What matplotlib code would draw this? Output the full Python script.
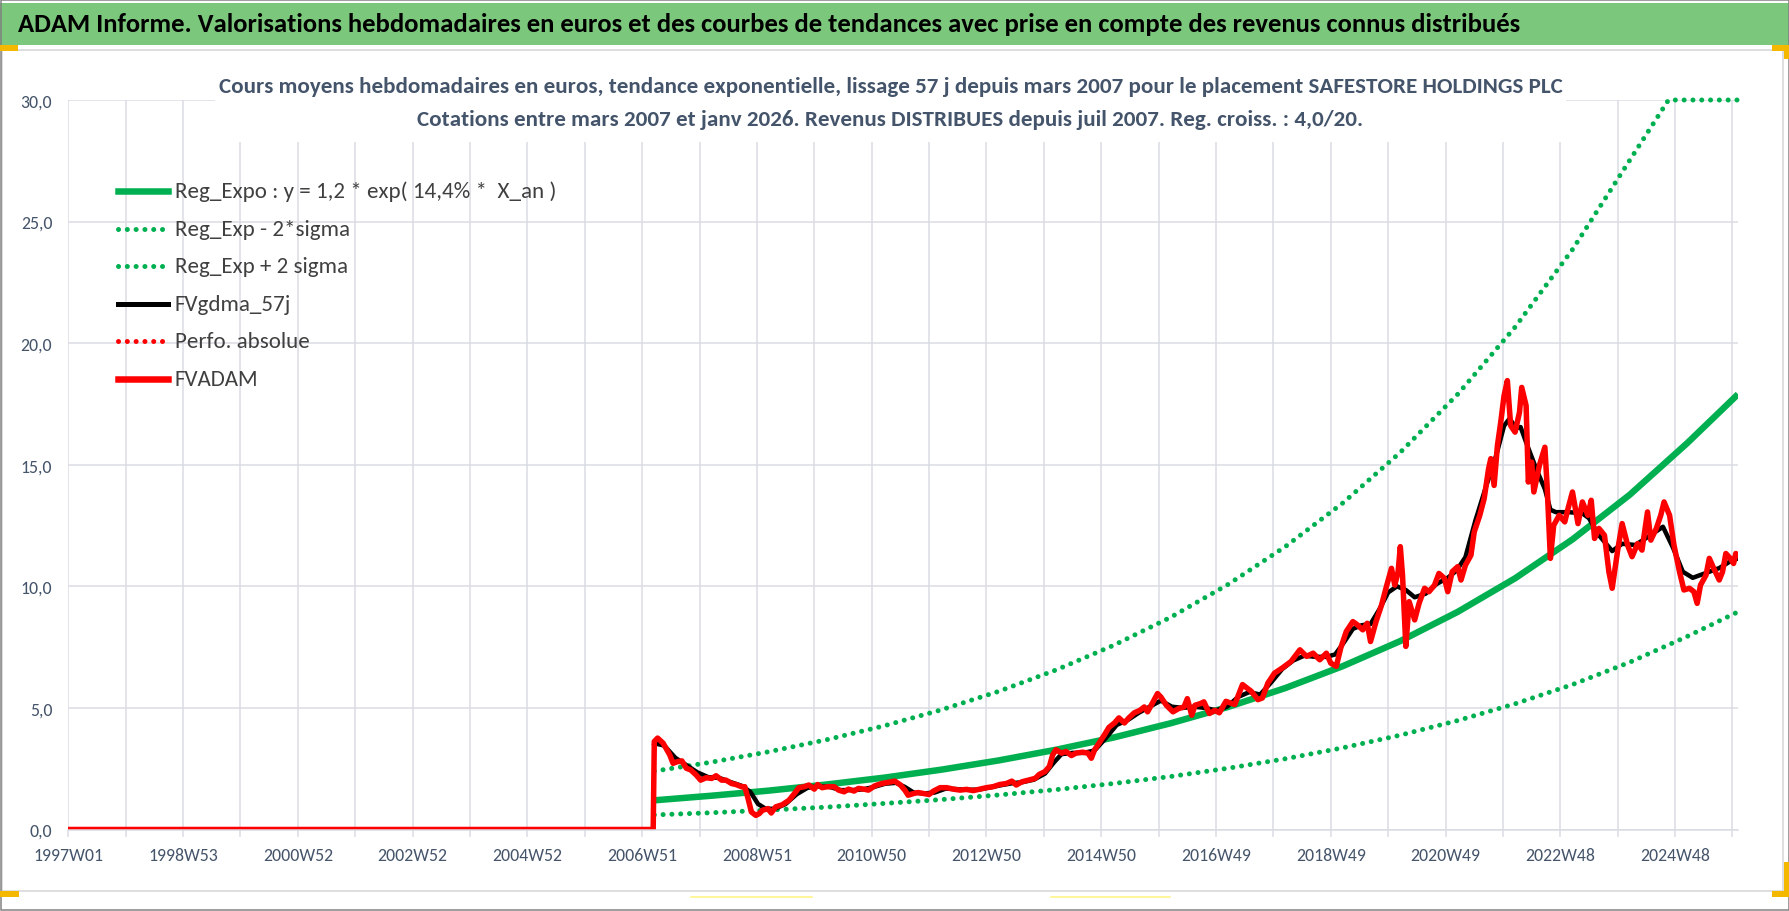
import matplotlib
matplotlib.use('Agg')
import matplotlib.pyplot as plt
from matplotlib import font_manager
from matplotlib.lines import Line2D
from matplotlib.patches import Rectangle

W, H = 1790, 912

# ---------------- data ----------------
# x = week index counted from 1997W01, y = euros
week_labels = ['1997W01', '1998W53', '2000W52', '2002W52', '2004W52', '2006W51',
               '2008W51', '2010W50', '2012W50', '2014W50', '2016W49', '2018W49',
               '2020W49', '2022W48', '2024W48']
n_weeks = 1514  # 1997W01 .. 2026W01

trend_weeks = [531, 583, 635, 687, 739, 791, 843, 895, 947, 999, 1051, 1103,
               1155, 1207, 1259, 1311, 1363, 1415, 1467, 1513]
reg_expo = [1.20, 1.39, 1.60, 1.85, 2.13, 2.46, 2.84, 3.28, 3.78, 4.37, 5.04, 5.82,
            6.72, 7.75, 8.95, 10.33, 11.93, 13.77, 15.89, 17.9]
reg_minus = [0.60, 0.69, 0.80, 0.92, 1.07, 1.23, 1.42, 1.64, 1.89, 2.18, 2.52, 2.91,
             3.36, 3.88, 4.48, 5.17, 5.96, 6.88, 7.94, 8.95]
plus_weeks = [531, 583, 635, 687, 739, 791, 843, 895, 947, 999, 1051, 1103,
              1155, 1207, 1259, 1311, 1363, 1415, 1450, 1513]
reg_plus = [2.40, 2.77, 3.20, 3.69, 4.26, 4.92, 5.68, 6.56, 7.57, 8.73, 10.08, 11.64,
            13.43, 15.51, 17.90, 20.66, 23.85, 27.53, 30.0, 30.0]

fvadam_weeks = [0, 530, 531, 534, 539, 545, 548, 552, 556, 560, 564, 569, 573, 578,
                583, 587, 592, 596, 601, 605, 610, 613, 616, 619, 623, 626, 629, 634,
                637, 641, 647, 653, 658, 662, 667, 671, 676, 679, 683, 688, 694, 698,
                703, 707, 712, 716, 721, 725, 731, 737, 743, 749, 754, 758, 761, 766,
                770, 775, 780, 784, 790, 796, 802, 808, 814, 820, 826, 832, 838, 844,
                850, 855, 859, 864, 870, 876, 880, 885, 889, 892, 895, 900, 904, 909,
                913, 919, 924, 927, 930, 934, 939, 943, 948, 952, 957, 961, 966, 971,
                975, 978, 983, 987, 990, 995, 1001, 1006, 1011, 1014, 1018, 1021, 1026,
                1029, 1034, 1039, 1043, 1049, 1057, 1064, 1072, 1078, 1082, 1087, 1093,
                1100, 1108, 1116, 1122, 1128, 1134, 1140, 1144, 1149, 1153, 1158, 1164,
                1168, 1173, 1177, 1180, 1185, 1190, 1194, 1199, 1202, 1205, 1207, 1209,
                1212, 1215, 1220, 1224, 1229, 1233, 1238, 1242, 1247, 1250, 1254, 1259,
                1262, 1266, 1271, 1274, 1279, 1283, 1287, 1289, 1292, 1295, 1298, 1301,
                1304, 1307, 1311, 1315, 1317, 1321, 1323, 1326, 1328, 1333, 1338, 1340,
                1343, 1346, 1351, 1356, 1359, 1363, 1368, 1372, 1377, 1380, 1383, 1387,
                1392, 1396, 1399, 1404, 1408, 1413, 1417, 1422, 1426, 1431, 1434, 1439,
                1443, 1446, 1451, 1455, 1460, 1464, 1469, 1473, 1476, 1479, 1484, 1487,
                1491, 1496, 1499, 1502, 1506, 1509, 1511, 1513]
fvadam = [0.0, 0.0, 3.62, 3.76, 3.55, 3.07, 2.72, 2.79, 2.82, 2.52, 2.45, 2.24, 2.03,
          2.13, 2.10, 2.21, 2.03, 2.03, 1.89, 1.85, 1.76, 1.76, 1.27, 0.72, 0.58, 0.65,
          0.79, 0.86, 0.68, 0.93, 1.02, 1.20, 1.48, 1.72, 1.76, 1.83, 1.66, 1.85, 1.72,
          1.76, 1.76, 1.62, 1.55, 1.66, 1.58, 1.69, 1.66, 1.62, 1.80, 1.89, 1.94, 1.99,
          1.83, 1.62, 1.41, 1.48, 1.52, 1.48, 1.44, 1.58, 1.72, 1.72, 1.66, 1.62, 1.65,
          1.60, 1.66, 1.72, 1.76, 1.85, 1.89, 1.99, 1.83, 1.96, 2.03, 2.10, 2.27, 2.38,
          2.59, 3.07, 3.28, 3.14, 3.21, 3.04, 3.14, 3.18, 3.14, 2.93, 3.28, 3.55, 3.90,
          4.20, 4.38, 4.59, 4.38, 4.59, 4.80, 4.90, 5.04, 4.84, 5.25, 5.59, 5.45, 5.11,
          4.84, 4.97, 5.04, 5.38, 4.70, 5.11, 5.18, 5.25, 4.77, 4.90, 4.80, 5.27, 5.14,
          5.96, 5.68, 5.34, 5.41, 6.02, 6.43, 6.64, 6.91, 7.39, 7.12, 7.25, 6.98, 7.25,
          6.84, 6.71, 7.46, 8.14, 8.55, 8.42, 8.21, 8.48, 7.73, 8.55, 9.23, 9.92, 10.74,
          10.05, 10.60, 11.63, 10.46, 7.53, 9.37, 8.62, 9.30, 9.92, 9.78, 10.05, 10.53,
          10.33, 9.78, 10.60, 10.81, 10.26, 10.87, 11.28, 12.24, 12.92, 13.61, 14.84,
          15.25, 14.15, 15.79, 16.75, 17.84, 18.46, 16.61, 16.34, 17.16, 18.18, 17.43,
          14.29, 15.11, 13.88, 14.97, 15.72, 14.15, 11.15, 12.51, 12.92, 12.65, 13.20,
          13.88, 12.58, 13.47, 12.92, 13.54, 11.97, 12.38, 12.10, 10.60, 9.92, 11.49,
          12.58, 11.69, 11.22, 11.76, 11.49, 13.06, 11.90, 12.38, 12.92, 13.47, 12.92,
          11.69, 10.60, 9.85, 9.92, 9.78, 9.30, 10.05, 10.46, 11.15, 10.74, 10.26, 10.60,
          11.35, 11.15, 10.94, 11.35, 11.28]

gdma_weeks = [531, 540, 550, 560, 570, 580, 590, 600, 610, 618, 625, 632, 640, 650,
              660, 670, 680, 690, 700, 710, 720, 730, 740, 750, 758, 766, 775, 785,
              795, 805, 815, 825, 835, 845, 855, 865, 875, 885, 893, 900, 910, 920,
              930, 940, 950, 960, 970, 980, 990, 1000, 1010, 1020, 1030, 1040, 1050,
              1060, 1070, 1080, 1090, 1100, 1110, 1120, 1130, 1140, 1148, 1156, 1164,
              1172, 1180, 1188, 1196, 1204, 1212, 1220, 1230, 1240, 1250, 1258, 1266,
              1275, 1285, 1294, 1301, 1306, 1312, 1316, 1322, 1330, 1338, 1343, 1348,
              1360, 1372, 1378, 1387, 1399, 1408, 1420, 1432, 1445, 1454, 1463, 1472,
              1484, 1496, 1505, 1513]
fvgdma = [3.55, 3.45, 2.95, 2.65, 2.35, 2.15, 2.12, 1.95, 1.80, 1.55, 1.05, 0.85,
          0.85, 1.05, 1.45, 1.72, 1.78, 1.75, 1.62, 1.62, 1.65, 1.75, 1.88, 1.92, 1.75,
          1.52, 1.48, 1.52, 1.68, 1.66, 1.63, 1.64, 1.73, 1.82, 1.90, 1.95, 2.05, 2.30,
          2.75, 3.10, 3.15, 3.15, 3.25, 3.75, 4.30, 4.50, 4.80, 5.05, 5.30, 5.05, 5.00,
          5.05, 5.00, 4.90, 5.05, 5.45, 5.65, 5.55, 6.05, 6.60, 6.95, 7.15, 7.10, 7.10,
          7.20, 7.70, 8.25, 8.40, 8.45, 9.05, 9.75, 10.0, 9.85, 9.55, 9.70, 10.10,
          10.35, 10.65, 11.20, 12.70, 14.15, 15.40, 16.60, 16.90, 16.50, 16.55, 15.80,
          14.85, 14.00, 13.15, 13.05, 13.05, 13.00, 12.80, 12.10, 11.45, 11.75, 11.70,
          12.05, 12.45, 11.60, 10.60, 10.35, 10.55, 10.75, 11.00, 11.15]

legend_labels = ['Reg_Expo : y = 1,2 * exp( 14,4% *  X_an )', 'Reg_Exp - 2*sigma',
                 'Reg_Exp + 2 sigma', 'FVgdma_57j', 'Perfo. absolue', 'FVADAM']

main_title = ('ADAM Informe. Valorisations hebdomadaires en euros et des courbes de '
              'tendances avec prise en compte des revenus connus distribués')
chart_title_1 = ('Cours moyens hebdomadaires en euros, tendance exponentielle, lissage 57 j '
                 'depuis mars 2007 pour le placement SAFESTORE HOLDINGS PLC')
chart_title_2 = ('Cotations entre mars 2007 et janv 2026. Revenus DISTRIBUES depuis juil 2007. '
                 'Reg. croiss. : 4,0/20.')

# ---------------- fonts ----------------
avail = {f.name for f in font_manager.fontManager.ttflist}
base = next(f for f in ['Carlito', 'Liberation Sans Narrow', 'Roboto', 'DejaVu Sans']
            if f in avail)
plt.rcParams['font.family'] = [base, 'DejaVu Sans']

GREEN = '#00B050'
GRID = '#D9DCE3'
TXT = '#44546A'
PX = 72 / 100  # points per pixel


def fx(x):
    return x / W


def fy(y):
    return 1 - y / H


fig = plt.figure(figsize=(W / 100, H / 100), dpi=100)
fig.patch.set_facecolor('white')
r = fig.canvas.get_renderer()


def fit(t, width):
    bb = t.get_window_extent(r)
    t.set_fontsize(t.get_fontsize() * width / bb.width)
    return t


def size_for(s, width, **kw):
    t = fig.text(0, 0, s, fontsize=10, **kw)
    w = t.get_window_extent(r).width
    t.remove()
    return 10 * width / w


# ---------------- frame decorations ----------------
fig.add_artist(Rectangle((0, fy(46)), 1, (46 - 4) / H, transform=fig.transFigure,
                         facecolor='#7BC77B', edgecolor='none', zorder=0))
fig.add_artist(Rectangle((fx(2), fy(892)), fx(1781), (892 - 51) / H, transform=fig.transFigure,
                         facecolor='none', edgecolor='#D4D4D4', lw=1.5 * PX, zorder=0))
fig.add_artist(Rectangle((fx(0.7), fy(911.3)), fx(1788.6), 910.6 / H, transform=fig.transFigure,
                         facecolor='none', edgecolor='#808080', lw=1.5 * PX, zorder=5))
yellow = '#F5B800'
for (x0, y0, w, h) in [(0, 46, 18, 6), (1772, 46, 18, 6), (1784, 46, 6, 14),
                       (1784, 863, 6, 35), (1772, 892, 18, 6), (0, 892, 19, 6)]:
    fig.add_artist(Rectangle((fx(x0), fy(y0 + h)), w / W, h / H, transform=fig.transFigure,
                             facecolor=yellow, edgecolor='none', zorder=6))
for (x0, x1) in [(691, 812), (1051, 1170)]:
    fig.add_artist(Line2D([fx(x0), fx(x1)], [fy(898), fy(898)], transform=fig.transFigure,
                          color='#FFF27A', lw=1.5 * PX, zorder=6))

t = fig.text(fx(18), fy(25), main_title, fontsize=18, fontweight='bold', color='black',
             ha='left', va='center', zorder=3)
fit(t, 1502)

# ---------------- plot area ----------------
left, right, bottom, top = 68.3, 1738.0, 830.5, 101.0
ax = fig.add_axes([fx(left), fy(bottom), (right - left) / W, (bottom - top) / H])
ax.set_facecolor('none')
ax.set_xlim(0, n_weeks - 1)
ax.set_ylim(0, 30)

tick_fs = size_for('1997W01', 70)
grid_pos = list(range(0, n_weeks - 1, 52))
grid_labels = [week_labels[i // 2] if i % 2 == 0 else '' for i in range(len(grid_pos))]
ax.set_xticks(grid_pos)
ax.set_xticklabels(grid_labels)
yt = list(range(0, 31, 5))
ax.set_yticks(yt)
ax.set_yticklabels([f'{v:.1f}'.replace('.', ',') for v in yt])
ax.tick_params(axis='x', length=7 * PX, width=1.5 * PX, color=GRID, pad=11 * PX,
               labelsize=tick_fs, labelcolor=TXT)
ax.tick_params(axis='y', length=0, pad=16 * PX, labelsize=tick_fs, labelcolor=TXT)
ax.grid(True, color=GRID, lw=1.5 * PX)
ax.set_axisbelow(True)
for s in ['left', 'right', 'top']:
    ax.spines[s].set_visible(False)
ax.spines['bottom'].set_color(GRID)
ax.spines['bottom'].set_linewidth(1.5 * PX)

dot = dict(color=GREEN, lw=5 * PX, linestyle=(0, (0.01, 1.75)), dash_capstyle='round')
ax.plot(trend_weeks, reg_expo, color=GREEN, lw=6.5 * PX, solid_capstyle='butt')
ax.plot(trend_weeks, reg_minus, **dot)
ax.plot(plus_weeks, reg_plus, clip_on=False, **dot)
ax.plot(gdma_weeks, fvgdma, color='black', lw=4.5 * PX)
ax.plot(fvadam_weeks, fvadam, color='#FF0000', lw=5.5 * PX, solid_joinstyle='round')

# ---------------- chart title (white box hides gridlines) ----------------
fig.add_artist(Rectangle((fx(215), fy(143)), (1566 - 215) / W, (143 - 62) / H,
                         transform=fig.transFigure, facecolor='white', edgecolor='none',
                         zorder=2))
t1 = fig.text(fx(891), fy(87), chart_title_1, fontsize=14, fontweight='bold', color=TXT,
              ha='center', va='center', zorder=3)
fit(t1, 1340)
t2 = fig.text(fx(890), fy(120), chart_title_2, fontsize=t1.get_fontsize(), fontweight='bold',
              color=TXT, ha='center', va='center', zorder=3)

# ---------------- legend ----------------
leg_fs = size_for(legend_labels[0], 379)
ldot = dict(lw=5 * PX, linestyle=(0, (0.01, 1.75)), dash_capstyle='round')
leg_styles = [dict(color=GREEN, lw=6.5 * PX),
              dict(color=GREEN, **ldot),
              dict(color=GREEN, **ldot),
              dict(color='black', lw=5 * PX),
              dict(color='#FF0000', **ldot),
              dict(color='#FF0000', lw=6.5 * PX)]
for i, (lab, st) in enumerate(zip(legend_labels, leg_styles)):
    y = 192 + i * 37.6
    fig.add_artist(Line2D([fx(118), fx(168)], [fy(y), fy(y)], transform=fig.transFigure,
                          zorder=4, **st))
    fig.text(fx(175), fy(y), lab, fontsize=leg_fs, color='#404040', ha='left', va='center',
             zorder=4)

fig.savefig('out.png', dpi=100, facecolor='white')
